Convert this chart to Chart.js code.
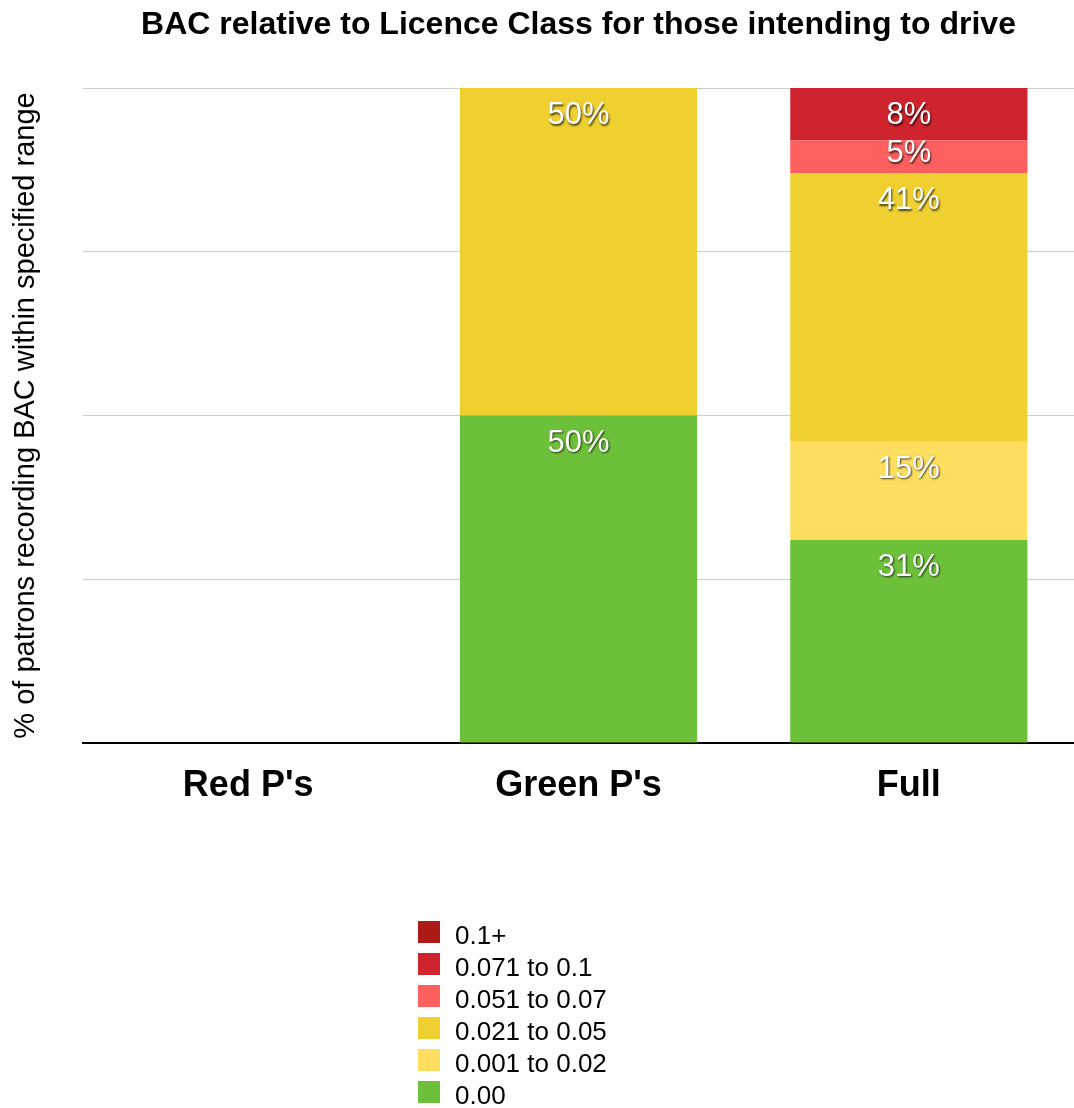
<!DOCTYPE html>
<html>
<head>
<meta charset="utf-8">
<script src="https://cdn.jsdelivr.net/npm/chart.js@4.4.1/dist/chart.umd.min.js"></script>
<style>
  html, body { margin: 0; padding: 0; background: #fff; }
  #wrap { width: 1074px; height: 1108px; position: relative; }
</style>
</head>
<body>
<div id="wrap"><canvas id="c"></canvas></div>
<script>
// Chart text
const chartTitle = 'BAC relative to Licence Class for those intending to drive';
const yAxisTitle = '% of patrons recording BAC within specified range';

// Categories (licence classes) and BAC ranges, bottom of stack first
const licenceClasses = ["Red P's", "Green P's", "Full"];
const bacRanges = ['0.00', '0.001 to 0.02', '0.021 to 0.05', '0.051 to 0.07', '0.071 to 0.1', '0.1+'];

// Percentage of patrons in each BAC range, per licence class
const share000     = [0, 50, 31];
const share001to02 = [0, 0, 15];
const share021to05 = [0, 50, 41];
const share051to07 = [0, 0, 5];
const share071to1  = [0, 0, 8];
const share1plus   = [0, 0, 0];

const rangeColours = ['#6CC03A', '#FEDE5F', '#EFD030', '#FE5F5F', '#CF232D', '#AB1A17'];

const FONT = '"Liberation Sans", Arial, Helvetica, sans-serif';
const seriesValues = [share000, share001to02, share021to05, share051to07, share071to1, share1plus];

const datasets = bacRanges.map((name, i) => ({
  label: name,
  data: seriesValues[i],
  backgroundColor: rangeColours[i],
  borderWidth: 0,
  barPercentage: 0.718,
  categoryPercentage: 1.0
}));

// Title centred over the plotting area
const titlePlugin = {
  id: 'plotTitle',
  afterDraw(chart) {
    const { ctx, chartArea } = chart;
    ctx.save();
    ctx.font = 'bold 32px ' + FONT;
    ctx.fillStyle = '#000';
    ctx.textAlign = 'center';
    ctx.textBaseline = 'alphabetic';
    ctx.fillText(chartTitle, (chartArea.left + chartArea.right) / 2, 34);
    ctx.restore();
  }
};

// White percentage labels near the top of each segment
const segmentLabels = {
  id: 'segmentLabels',
  afterDatasetsDraw(chart) {
    const { ctx } = chart;
    ctx.save();
    ctx.font = '31px ' + FONT;
    ctx.fillStyle = '#fff';
    ctx.textAlign = 'center';
    ctx.textBaseline = 'alphabetic';
    ctx.shadowColor = 'rgba(0,0,0,0.7)';
    ctx.shadowOffsetX = 1;
    ctx.shadowOffsetY = 1.5;
    ctx.shadowBlur = 2;
    chart.data.datasets.forEach((ds, di) => {
      const meta = chart.getDatasetMeta(di);
      meta.data.forEach((bar, i) => {
        const v = ds.data[i];
        if (!v) return;
        const h = bar.base - bar.y;
        const off = h > 45 ? 36 : h / 2 + 5.5;
        ctx.fillText(v + '%', bar.x, bar.y + off);
      });
    });
    ctx.restore();
  }
};

// Vertical legend below the plot, top range first
const columnLegend = {
  id: 'columnLegend',
  afterDraw(chart) {
    const { ctx } = chart;
    ctx.save();
    ctx.font = '26px ' + FONT;
    ctx.textAlign = 'left';
    ctx.textBaseline = 'alphabetic';
    const items = chart.data.datasets.slice().reverse();
    items.forEach((ds, k) => {
      const top = 921 + k * 32;
      ctx.fillStyle = ds.backgroundColor;
      ctx.fillRect(418, top, 22, 22);
      ctx.fillStyle = '#000';
      ctx.fillText(ds.label, 455, top + 23);
    });
    ctx.restore();
  }
};

new Chart(document.getElementById('c'), {
  type: 'bar',
  data: { labels: licenceClasses, datasets },
  plugins: [titlePlugin, segmentLabels, columnLegend],
  options: {
    responsive: true,
    maintainAspectRatio: false,
    animation: false,
    layout: { padding: { top: 88, bottom: 285, left: 0, right: 0 } },
    plugins: {
      legend: { display: false },
      title: { display: false },
      tooltip: { enabled: false }
    },
    scales: {
      x: {
        stacked: true,
        offset: true,
        grid: { display: false, drawTicks: false },
        border: { display: true, color: '#000', width: 2 },
        ticks: { color: '#000', font: { family: FONT, size: 36, weight: 'bold' }, padding: 21 },
        afterFit(scale) { scale.height = 80; }
      },
      y: {
        stacked: true,
        min: 0,
        max: 100,
        ticks: { display: false, stepSize: 25 },
        grid: { color: '#cccccc', lineWidth: 1, drawTicks: false },
        border: { display: false },
        title: {
          display: true,
          text: yAxisTitle,
          color: '#000',
          font: { family: FONT, size: 29 },
          padding: { top: 9, bottom: 0 }
        },
        afterFit(scale) { scale.width = 83; }
      }
    }
  }
});
</script>
</body>
</html>
